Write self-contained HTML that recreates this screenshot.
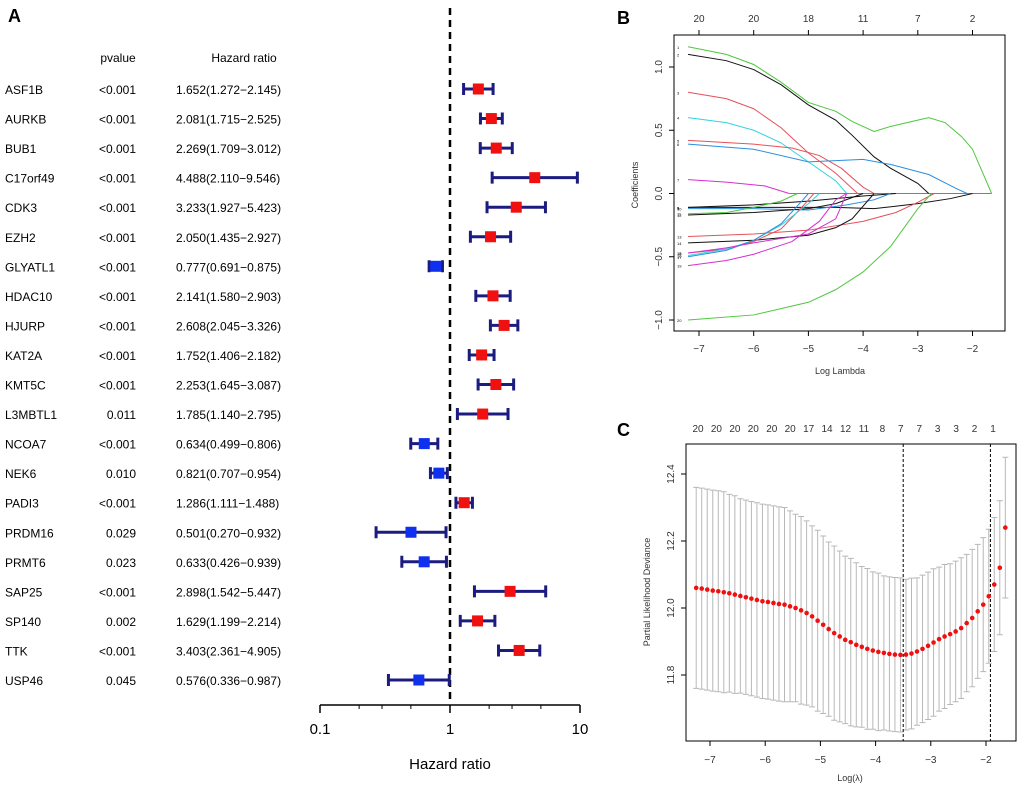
<!DOCTYPE html>
<html><head><meta charset="utf-8">
<style>
body{margin:0;background:#fff;}
svg{display:block;font-family:"Liberation Sans",Arial,sans-serif;}
</style></head>
<body>
<svg id="fig" width="1020" height="788" viewBox="0 0 1020 788">
<g id="pa"></g>
<g id="pb"></g>
<g id="pc"></g>
</svg>
<script>
// ---------- Panel A data ----------
const genes=["ASF1B","AURKB","BUB1","C17orf49","CDK3","EZH2","GLYATL1","HDAC10","HJURP","KAT2A","KMT5C","L3MBTL1","NCOA7","NEK6","PADI3","PRDM16","PRMT6","SAP25","SP140","TTK","USP46"];
const pvals=["<0.001","<0.001","<0.001","<0.001","<0.001","<0.001","<0.001","<0.001","<0.001","<0.001","<0.001","0.011","<0.001","0.010","<0.001","0.029","0.023","<0.001","0.002","<0.001","0.045"];
const hr=[1.652,2.081,2.269,4.488,3.233,2.050,0.777,2.141,2.608,1.752,2.253,1.785,0.634,0.821,1.286,0.501,0.633,2.898,1.629,3.403,0.576];
const hrLow=[1.272,1.715,1.709,2.110,1.927,1.435,0.691,1.580,2.045,1.406,1.645,1.140,0.499,0.707,1.111,0.270,0.426,1.542,1.199,2.361,0.336];
const hrHigh=[2.145,2.525,3.012,9.546,5.423,2.927,0.875,2.903,3.326,2.182,3.087,2.795,0.806,0.954,1.488,0.932,0.939,5.447,2.214,4.905,0.987];
const hrTicks=[0.1,1,10];
// ---------- Panel B data ----------
const bTopLabels=["20","20","18","11","7","2"];
const bTicksX=[-7,-6,-5,-4,-3,-2];
const bTicksY=[1.0,0.5,0.0,-0.5,-1.0];
const bColors=["#4dc83c","#111","#e8505a","#2fd4e0","#e8505a","#2b8ee0","#d62fd0","#111","#111","#2b8ee0","#4dc83c","#111","#e8505a","#111","#e8505a","#2fd4e0","#2b8ee0","#d62fd0","#d62fd0","#4dc83c"];
const c1=[[-7.2,1.16],[-6.5,1.1],[-6,1.02],[-5.5,0.88],[-5,0.72],[-4.5,0.65],[-4.2,0.57],[-3.8,0.49],[-3.5,0.53],[-3,0.58],[-2.8,0.6],[-2.5,0.56],[-2.2,0.45],[-2,0.35],[-1.65,0]];
const c2=[[-7.2,1.1],[-6.5,1.05],[-6,0.98],[-5.5,0.86],[-5,0.7],[-4.5,0.58],[-4.2,0.46],[-3.8,0.29],[-3.5,0.2],[-3,0.08],[-2.8,0]];
const c3=[[-7.2,0.8],[-6.5,0.75],[-6,0.67],[-5.5,0.52],[-5,0.32],[-4.5,0.16],[-4.1,0]];
const c4=[[-7.2,0.6],[-6.5,0.56],[-6,0.5],[-5.5,0.4],[-5,0.25],[-4.5,0.1],[-4.3,0]];
const c5=[[-7.2,0.42],[-6,0.39],[-5.3,0.36],[-4.8,0.3],[-4.4,0.2],[-4,0.05],[-3.8,0]];
const c6=[[-7.2,0.39],[-6,0.35],[-5,0.25],[-4,0.27],[-3.5,0.23],[-2.8,0.15],[-2.3,0.04],[-2.1,0]];
const c7=[[-7.2,0.11],[-6.5,0.09],[-5.8,0.06],[-5.35,0]];
const c8=[[-7.2,-0.11],[-6,-0.09],[-5,-0.06],[-4,-0.02],[-3.4,0]];
const c9=[[-7.2,-0.11],[-6,-0.11],[-4.5,-0.11],[-3.8,-0.12],[-3,-0.08],[-2.4,-0.04],[-2,0]];
const c10=[[-7.2,-0.12],[-6,-0.12],[-5,-0.13],[-4.3,-0.09],[-3.8,-0.05],[-3.5,0]];
const c11=[[-7.2,-0.16],[-6.5,-0.15],[-6,-0.11],[-5.5,-0.06],[-5.2,0]];
const c12=[[-7.2,-0.17],[-6,-0.15],[-5,-0.12],[-4.5,-0.08],[-4,0]];
const c13=[[-7.2,-0.34],[-6,-0.32],[-5,-0.29],[-4,-0.22],[-3.4,-0.15],[-3,-0.07],[-2.7,0]];
const c14=[[-7.2,-0.39],[-6,-0.37],[-5,-0.33],[-4.5,-0.27],[-4.2,-0.2],[-3.8,0]];
const c15=[[-7.2,-0.47],[-6.5,-0.44],[-6,-0.38],[-5.5,-0.28],[-5.1,-0.1],[-4.9,0]];
const c16=[[-7.2,-0.49],[-6.5,-0.44],[-6,-0.37],[-5.5,-0.25],[-5,-0.08],[-4.8,0]];
const c17=[[-7.2,-0.5],[-6.5,-0.45],[-6,-0.37],[-5.5,-0.24],[-5.1,-0.05],[-5,0]];
const c18=[[-7.2,-0.47],[-6.5,-0.43],[-6,-0.39],[-5,-0.32],[-4.5,-0.2],[-4.3,0]];
const c19=[[-7.2,-0.57],[-6.5,-0.53],[-6,-0.48],[-5.3,-0.38],[-4.8,-0.22],[-4.5,-0.05],[-4.3,0]];
const c20=[[-7.2,-1.0],[-6,-0.96],[-5,-0.86],[-4.5,-0.76],[-4,-0.62],[-3.5,-0.42],[-3,-0.12],[-2.75,0]];
const zeroLine=[[-5.35,0],[-1.65,0]];
// ---------- Panel C data ----------
const cTopLabels=["20","20","20","20","20","20","17","14","12","11","8","7","7","3","3","2","1"];
const cTicksX=[-7,-6,-5,-4,-3,-2];
const cTicksY=[12.4,12.2,12.0,11.8];
const cvLambda=[-7.25,-7.15,-7.05,-6.95,-6.85,-6.75,-6.65,-6.55,-6.45,-6.35,-6.25,-6.15,-6.05,-5.95,-5.85,-5.75,-5.65,-5.55,-5.45,-5.35,-5.25,-5.15,-5.05,-4.95,-4.85,-4.75,-4.65,-4.55,-4.45,-4.35,-4.25,-4.15,-4.05,-3.95,-3.85,-3.75,-3.65,-3.55,-3.45,-3.35,-3.25,-3.15,-3.05,-2.95,-2.85,-2.75,-2.65,-2.55,-2.45,-2.35,-2.25,-2.15,-2.05,-1.95,-1.85,-1.75,-1.65];
const cvMean=[12.06,12.058,12.055,12.052,12.05,12.047,12.044,12.04,12.036,12.032,12.028,12.024,12.02,12.018,12.015,12.012,12.01,12.005,12.0,11.993,11.985,11.975,11.962,11.95,11.937,11.925,11.915,11.905,11.898,11.89,11.884,11.878,11.873,11.869,11.866,11.863,11.861,11.86,11.861,11.864,11.87,11.878,11.887,11.897,11.907,11.915,11.922,11.93,11.94,11.955,11.97,11.99,12.01,12.035,12.07,12.12,12.24];
const cvSE=[0.30,0.30,0.30,0.30,0.30,0.30,0.295,0.295,0.29,0.29,0.29,0.29,0.29,0.29,0.29,0.29,0.29,0.285,0.28,0.28,0.275,0.27,0.27,0.265,0.26,0.26,0.255,0.25,0.25,0.245,0.24,0.24,0.235,0.235,0.23,0.23,0.23,0.23,0.225,0.225,0.22,0.22,0.22,0.22,0.215,0.215,0.21,0.21,0.21,0.205,0.205,0.2,0.2,0.2,0.2,0.2,0.21];
const cvMin=-3.5, cv1se=-1.92;

const NS="http://www.w3.org/2000/svg";
function mk(parent,tag,attrs,text){const e=document.createElementNS(NS,tag);for(const k in attrs)e.setAttribute(k,attrs[k]);if(text!==undefined)e.textContent=text;parent.appendChild(e);return e;}

// ---------- Panel A ----------
(function(){
const g=document.getElementById('pa');
const xA=v=>450+130*Math.log10(v);
const yRow=i=>89+i*29.55;
let t=mk(g,'text',{x:8,y:22,'font-size':18,'font-weight':'bold'},'A');

t=mk(g,'text',{x:118,y:62,'font-size':12,'text-anchor':'middle'},'pvalue');

t=mk(g,'text',{x:244,y:62,'font-size':12,'text-anchor':'middle'},'Hazard ratio');

const d=mk(g,'line',{x1:450,y1:8,x2:450,y2:702,stroke:'#000','stroke-width':2.5,'stroke-dasharray':'7,5'});

genes.forEach((gn,i)=>{
 const y=yRow(i);
 let a=mk(g,'text',{x:5,y:y+5,'font-size':12},gn);
 
 a=mk(g,'text',{x:136,y:y+5,'font-size':12,'text-anchor':'end'},pvals[i]);
 
 a=mk(g,'text',{x:176,y:y+5,'font-size':12},hr[i].toFixed(3)+'('+hrLow[i].toFixed(3)+'\u2212'+hrHigh[i].toFixed(3)+')');
 
 const x1=xA(hrLow[i]),x2=xA(hrHigh[i]);
 const ci=mk(g,'path',{d:`M${x1},${y}H${x2}M${x1},${y-6}V${y+6}M${x2},${y-6}V${y+6}`,stroke:'#1c1c80','stroke-width':3,fill:'none'});
 
 const sq=mk(g,'rect',{x:xA(hr[i])-5.5,y:y-5.5,width:11,height:11,fill:hr[i]>1?'#f01010':'#1030f0'});
 
});
const ax=mk(g,'line',{x1:xA(0.1),y1:705,x2:xA(10),y2:705,stroke:'#000','stroke-width':1.5});

hrTicks.forEach(v=>{
 const tk=mk(g,'line',{x1:xA(v),y1:705,x2:xA(v),y2:713,stroke:'#000','stroke-width':1.5});
 
 const tl=mk(g,'text',{x:xA(v),y:734,'font-size':15,'text-anchor':'middle'},String(v));
 
});
[0.2,0.3,0.5,2,3,5].forEach(v=>{
 const tk=mk(g,'line',{x1:xA(v),y1:705,x2:xA(v),y2:709,stroke:'#000','stroke-width':1});
 
});
t=mk(g,'text',{x:450,y:769,'font-size':15,'text-anchor':'middle'},'Hazard ratio');

})();

// ---------- Panel B ----------
(function(){
const g=document.getElementById('pb');
const L=674,T=35,R=1005,B=331;
const xB=v=>699+(v+7)*54.7;
const yB=v=>193.5-v*126.5;
let t=mk(g,'text',{x:617,y:24,'font-size':18,'font-weight':'bold'},'B');

const box=mk(g,'rect',{x:L,y:T,width:R-L,height:B-T,fill:'none',stroke:'#000','stroke-width':1});

bTicksX.forEach((v,i)=>{
 let e=mk(g,'line',{x1:xB(v),y1:B,x2:xB(v),y2:B+5,stroke:'#000'});
 
 e=mk(g,'text',{x:xB(v),y:352,'font-size':10,'text-anchor':'middle',fill:'#333'},'\u2212'+Math.abs(v));
 
 e=mk(g,'line',{x1:xB(v),y1:T,x2:xB(v),y2:T-5,stroke:'#000'});
 
 e=mk(g,'text',{x:xB(v),y:22,'font-size':10,'text-anchor':'middle',fill:'#333'},bTopLabels[i]);
 
});
bTicksY.forEach(v=>{
 let e=mk(g,'line',{x1:L,y1:yB(v),x2:L-5,y2:yB(v),stroke:'#000'});
 
 e=mk(g,'text',{x:0,y:0,'font-size':10,'text-anchor':'middle',fill:'#333',transform:`translate(662,${yB(v)}) rotate(-90)`},(v<0?'\u2212':'')+Math.abs(v).toFixed(1));
 
});
t=mk(g,'text',{x:0,y:0,'font-size':9,'text-anchor':'middle',fill:'#333',transform:'translate(638,185) rotate(-90)'},'Coefficients');

t=mk(g,'text',{x:840,y:374,'font-size':9,'text-anchor':'middle',fill:'#333'},'Log Lambda');

const curves=[c1,c2,c3,c4,c5,c6,c7,c8,c9,c10,c11,c12,c13,c14,c15,c16,c17,c18,c19,c20];
const zl=mk(g,'polyline',{points:zeroLine.map(p=>xB(p[0])+','+yB(p[1])).join(' '),fill:'none',stroke:'#e8505a','stroke-width':1});

curves.forEach((c,i)=>{
 const p=mk(g,'polyline',{points:c.map(q=>xB(q[0])+','+yB(q[1])).join(' '),fill:'none',stroke:bColors[i],'stroke-width':1});
 
 const lb=mk(g,'text',{x:L+3,y:yB(c[0][1])+2,'font-size':4,fill:'#000'},String(i+1));
 
});
})();

// ---------- Panel C ----------
(function(){
const g=document.getElementById('pc');
const L=686,T=444,R=1016,B=741;
const xC=v=>710+(v+7)*55.2;
const yC=v=>474+(12.4-v)*335;
let t=mk(g,'text',{x:617,y:436,'font-size':18,'font-weight':'bold'},'C');

const box=mk(g,'rect',{x:L,y:T,width:R-L,height:B-T,fill:'none',stroke:'#000','stroke-width':1});

cTicksX.forEach(v=>{
 let e=mk(g,'line',{x1:xC(v),y1:B,x2:xC(v),y2:B+5,stroke:'#000'});
 
 e=mk(g,'text',{x:xC(v),y:763,'font-size':10,'text-anchor':'middle',fill:'#333'},'\u2212'+Math.abs(v));
 
});
cTicksY.forEach(v=>{
 let e=mk(g,'line',{x1:L,y1:yC(v),x2:L-5,y2:yC(v),stroke:'#000'});
 
 e=mk(g,'text',{x:0,y:0,'font-size':10,'text-anchor':'middle',fill:'#333',transform:`translate(674,${yC(v)}) rotate(-90)`},v.toFixed(1));
 
});
cTopLabels.forEach((s,i)=>{
 const e=mk(g,'text',{x:698+i*(295/16),y:432,'font-size':10,'text-anchor':'middle',fill:'#333'},s);
 
});
t=mk(g,'text',{x:0,y:0,'font-size':9,'text-anchor':'middle',fill:'#333',transform:'translate(650,592) rotate(-90)'},'Partial Likelihood Deviance');

t=mk(g,'text',{x:850,y:781,'font-size':9,'text-anchor':'middle',fill:'#333'},'Log(\u03bb)');

cvLambda.forEach((lx,i)=>{
 const x=xC(lx),yu=yC(cvMean[i]+cvSE[i]),yl=yC(cvMean[i]-cvSE[i]);
 const eb=mk(g,'path',{d:`M${x},${yu}V${yl}M${x-3},${yu}H${x+3}M${x-3},${yl}H${x+3}`,stroke:'#b8b8b8','stroke-width':1,fill:'none'});
 
});
[cvMin,cv1se].forEach(v=>{
 const e=mk(g,'line',{x1:xC(v),y1:T,x2:xC(v),y2:B,stroke:'#000','stroke-width':1,'stroke-dasharray':'3,2'});
 
});
cvLambda.forEach((lx,i)=>{
 const c=mk(g,'circle',{cx:xC(lx),cy:yC(cvMean[i]),r:2.3,fill:'#f01010'});
 
});
})();
</script>
</body></html>
